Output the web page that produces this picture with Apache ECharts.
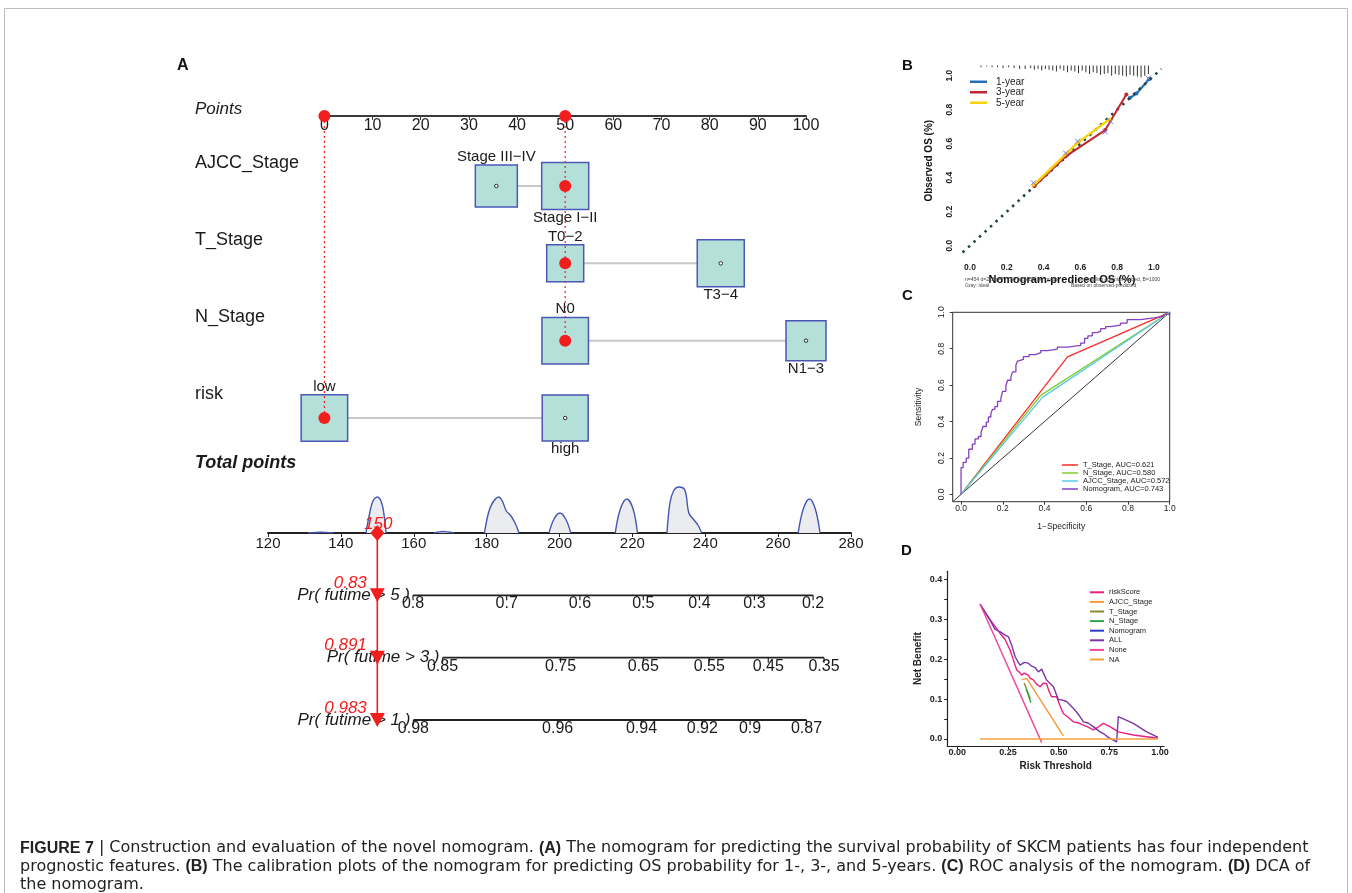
<!DOCTYPE html>
<html>
<head>
<meta charset="utf-8">
<script src="https://cdn.jsdelivr.net/npm/echarts@6/dist/echarts.min.js"></script>
<style>
  html, body { margin: 0; background: #fff; }
  #chart { width: 1352px; height: 893px; }
</style>
</head>
<body>
<div id="chart"></div>
<script>
const FONT = "'Liberation Sans', Arial, Helvetica, sans-serif";

// ---- A: nomogram ----
const varNames = ['AJCC_Stage', 'T_Stage', 'N_Stage', 'risk'];
const levelVar = ['AJCC_Stage', 'AJCC_Stage', 'T_Stage', 'T_Stage', 'N_Stage', 'N_Stage', 'risk', 'risk'];
const levelName = ['Stage III−IV', 'Stage I−II', 'T0−2', 'T3−4', 'N0', 'N1−3', 'low', 'high'];
const levelPoints = [35.7, 50, 50, 82.3, 50, 100, 0, 50];
const patientPoints = [50, 50, 50, 0]; // per varNames

const totalRows = ['Total points', 'Pr( futime > 5 )', 'Pr( futime > 3 )', 'Pr( futime > 1 )'];
const patientTotal = 150;
const patientProb = ['0.83', '0.891', '0.983'];
const prTickLabel = [
  ['0.8', '0.7', '0.6', '0.5', '0.4', '0.3', '0.2'],
  ['0.85', '0.75', '0.65', '0.55', '0.45', '0.35'],
  ['0.98', '0.96', '0.94', '0.92', '0.9', '0.87']
];
const prTickAt = [
  [159.8, 185.5, 205.6, 223, 238.4, 253.5, 269.6],
  [167.9, 200.3, 223, 241.1, 257.3, 272.6],
  [159.9, 199.5, 222.5, 239.2, 252.3, 267.8]
];
// density of total points, one list per bump: [total points, height]
const densityBumps = [
  [[131, 0], [134.5, 0.8], [138, 0]],
  [[146.9, 0], [147.8, 18], [148.8, 32], [150, 36], [151.2, 30], [152, 14], [152.4, 0]],
  [[165.5, 0], [168, 1.5], [171, 0]],
  [[179.4, 0], [180.5, 20], [181.6, 30], [183.3, 36], [184.3, 32], [185.4, 22], [186.5, 18], [187.8, 10], [188.9, 0]],
  [[197.1, 0], [198.5, 14], [200.1, 20], [201.7, 14], [203.1, 0]],
  [[215.3, 0], [216.7, 24], [218.5, 34], [220.2, 24], [221.4, 0]],
  [[229.5, 0], [230.3, 30], [231.3, 42], [232.7, 46], [234.4, 43], [235.5, 20], [236.9, 13], [238, 8], [239, 0]],
  [[265.5, 0], [266.9, 24], [268.6, 34], [270.2, 24], [271.5, 0]]
];

// ---- B: calibration ----
const cal1 = [[0.87, 0.87], [0.905, 0.895], [0.975, 0.98]];
const cal3 = [[0.35, 0.35], [0.52, 0.525], [0.735, 0.68], [0.85, 0.89]];
const cal5 = [[0.345, 0.355], [0.585, 0.605], [0.76, 0.745]];
const calCorrected = [[0.345, 0.37], [0.52, 0.545], [0.585, 0.615], [0.735, 0.67], [0.765, 0.73], [0.97, 0.985]];
const rugX = [0.06, 0.09, 0.12, 0.15, 0.18, 0.21, 0.24, 0.27, 0.3, 0.33, 0.35, 0.37, 0.39, 0.41, 0.43, 0.45, 0.47, 0.49, 0.51, 0.53, 0.55,
  0.57, 0.59, 0.61, 0.63, 0.65, 0.67, 0.69, 0.71, 0.73, 0.75, 0.77, 0.79, 0.81, 0.83, 0.85, 0.87, 0.89, 0.91, 0.93, 0.95, 0.97];
const rugH = [0.01, 0.005, 0.01, 0.01, 0.015, 0.01, 0.015, 0.02, 0.02, 0.015, 0.025, 0.02, 0.03, 0.02, 0.025, 0.03, 0.035, 0.02, 0.03, 0.04, 0.03,
  0.035, 0.045, 0.03, 0.04, 0.05, 0.04, 0.045, 0.055, 0.05, 0.045, 0.06, 0.05, 0.055, 0.06, 0.065, 0.055, 0.06, 0.065, 0.07, 0.06, 0.05];

// ---- C: ROC ----
const rocT = [[0, 0], [0.51, 0.755], [1, 1]];
const rocN = [[0, 0], [0.382, 0.544], [1, 1]];
const rocA = [[0, 0], [0.39, 0.533], [1, 1]];
const rocNomo = [[0, 0], [0.010, 0.147], [0.025, 0.176], [0.037, 0.199], [0.054, 0.248], [0.067, 0.276], [0.083, 0.305], [0.096, 0.318],
  [0.105, 0.340], [0.121, 0.373], [0.131, 0.397], [0.143, 0.425], [0.151, 0.445], [0.162, 0.467], [0.175, 0.482], [0.191, 0.511],
  [0.199, 0.529], [0.215, 0.566], [0.223, 0.597], [0.239, 0.627], [0.247, 0.645], [0.263, 0.673], [0.271, 0.710], [0.280, 0.732],
  [0.299, 0.741], [0.326, 0.757], [0.357, 0.768], [0.382, 0.778], [0.414, 0.790], [0.462, 0.798], [0.510, 0.809], [0.573, 0.818],
  [0.592, 0.831], [0.608, 0.857], [0.629, 0.871], [0.653, 0.888], [0.669, 0.897], [0.693, 0.910], [0.717, 0.921], [0.764, 0.930],
  [0.796, 0.941], [0.860, 0.960], [0.924, 0.969], [0.971, 0.978], [1, 0.989], [1, 1]];
const rocNames = ['T_Stage, AUC=0.621', 'N_Stage, AUC=0.580', 'AJCC_Stage, AUC=0.572', 'Nomogram, AUC=0.743'];

// ---- D: DCA ----
const dcaNames = ['riskScore', 'AJCC_Stage', 'T_Stage', 'N_Stage', 'Nomogram', 'ALL', 'None', 'NA'];
const dcaRisk = [[0.112, 0.338], [0.16, 0.3], [0.21, 0.265], [0.235, 0.25], [0.26, 0.223], [0.275, 0.2], [0.293, 0.173], [0.305, 0.168],
  [0.317, 0.16], [0.33, 0.165], [0.35, 0.16], [0.36, 0.152], [0.375, 0.148], [0.39, 0.138], [0.408, 0.131], [0.425, 0.14], [0.44, 0.139],
  [0.452, 0.12], [0.465, 0.106], [0.49, 0.106], [0.505, 0.085], [0.523, 0.064], [0.545, 0.055], [0.572, 0.043], [0.6, 0.04], [0.622, 0.035],
  [0.645, 0.03], [0.671, 0.023], [0.695, 0.03], [0.72, 0.039], [0.753, 0.031], [0.794, 0.018], [0.868, 0.01], [0.99, 0.002]];
const dcaAjcc = [[0.317, 0.148], [0.342, 0.152], [0.523, 0.008]];
const dcaT = [[0.33, 0.14], [0.36, 0.1]];
const dcaN = [[0.34, 0.125], [0.363, 0.091]];
const dcaNomo = [];
const dcaAll = [[0.112, 0.338], [0.161, 0.298], [0.185, 0.275], [0.21, 0.269], [0.23, 0.262], [0.252, 0.256], [0.27, 0.232], [0.285, 0.206],
  [0.309, 0.185], [0.33, 0.192], [0.35, 0.19], [0.365, 0.183], [0.383, 0.179], [0.4, 0.168], [0.416, 0.175], [0.44, 0.148], [0.474, 0.131],
  [0.498, 0.099], [0.515, 0.098], [0.539, 0.094], [0.572, 0.077], [0.6, 0.06], [0.622, 0.043], [0.645, 0.04], [0.671, 0.031], [0.704, 0.018],
  [0.725, 0.012], [0.745, 0.004], [0.786, -0.007], [0.794, 0.056], [0.868, 0.039], [0.934, 0.018], [0.99, 0.004]];
const dcaNone = [[0.112, 0.338], [0.416, -0.009]];
const dcaNA = [[0.112, 0], [0.99, 0]];

// ---- styles / layout ----
const POINTS_ROW = -0.906; // the Points axis sits above the first variable row
const BOX_SIDE = [42, 47, 37, 47, 46.5, 40, 46.5, 46];
const BOX_LABEL_POS = ['top', 'bottom', 'top', 'bottom', 'top', 'bottom', 'top', 'bottom'];
const RED = '#f21d1d';
const dcaColors = ['#e8207f', '#f59a3a', '#8b8a2a', '#2aa84a', '#2a3fc8', '#7b35a8', '#f0449a', '#f7a040'];
const rocColors = ['#ff2a2a', '#82cc2c', '#5cc8e8', '#8440c0'];

const chart = echarts.init(document.getElementById('chart'));
const rowOf = (v) => varNames.indexOf(v);
const series = [];

// A1: connectors between levels of each variable
varNames.forEach((v) => {
  const pts = levelVar.map((lv, i) => (lv === v ? [levelPoints[i], rowOf(v)] : null)).filter(Boolean);
  series.push({ type: 'line', xAxisIndex: 0, yAxisIndex: 0, data: pts, symbol: 'none', z: 2,
    lineStyle: { color: '#c8c8c8', width: 2 }, silent: true });
});
// A1: boxes
series.push({
  type: 'scatter', xAxisIndex: 0, yAxisIndex: 0, symbol: 'rect', z: 3,
  data: levelName.map((n, i) => ({
    name: n, value: [levelPoints[i], rowOf(levelVar[i])], symbolSize: [BOX_SIDE[i], BOX_SIDE[i]],
    label: { position: BOX_LABEL_POS[i] }
  })),
  itemStyle: { color: '#b5e0da', borderColor: '#4957b6', borderWidth: 1.5, opacity: 1 },
  label: { show: true, formatter: (p) => p.name, fontSize: 15, color: '#1a1a1a', distance: 0 }
});
series.push({
  type: 'scatter', xAxisIndex: 0, yAxisIndex: 0, symbol: 'circle', symbolSize: 3.5, z: 4,
  data: levelName.map((n, i) => [levelPoints[i], rowOf(levelVar[i])]),
  itemStyle: { color: '#fff', borderColor: '#000', borderWidth: 0.8, opacity: 1 }
});
// A1: patient dotted guides + red dots
const uniq = [...new Set(patientPoints)];
uniq.forEach((u) => {
  let last = 0;
  varNames.forEach((v, i) => { if (patientPoints[i] === u) last = i; });
  series.push({ type: 'line', xAxisIndex: 0, yAxisIndex: 0, data: [[u, POINTS_ROW], [u, last]], symbol: 'none', z: 5,
    lineStyle: { color: RED, width: 1.2, type: [2, 3] } });
});
series.push({
  type: 'scatter', xAxisIndex: 0, yAxisIndex: 0, symbolSize: 12, z: 6,
  data: uniq.map((u) => [u, POINTS_ROW]).concat(varNames.map((v, i) => [patientPoints[i], i])),
  itemStyle: { color: RED, opacity: 1 }
});

// A3: density bumps
densityBumps.forEach((b) => {
  series.push({ type: 'line', xAxisIndex: 1, yAxisIndex: 1, data: b, smooth: 0.35, symbol: 'none',
    lineStyle: { color: '#4356b3', width: 1.4 }, areaStyle: { color: '#ebecef', opacity: 1 } });
});

// A2: probability axes
prTickAt.forEach((ticks, r) => {
  const row = totalRows[r + 1];
  series.push({ type: 'line', xAxisIndex: 2, yAxisIndex: 2, data: ticks.map((t) => [t, row]), symbol: 'none',
    lineStyle: { color: '#222', width: 1.8 }, z: 2 });
  series.push({
    type: 'scatter', xAxisIndex: 2, yAxisIndex: 2, symbol: 'rect', symbolSize: [1.2, 5], symbolOffset: [0, 2.5], z: 2,
    data: ticks.map((t, k) => ({ value: [t, row], name: prTickLabel[r][k] })),
    itemStyle: { color: '#222', opacity: 1 },
    label: { show: true, position: 'inside', offset: [0, 6], formatter: (p) => p.name, fontSize: 16, color: '#1a1a1a' }
  });
  series.push({
    type: 'scatter', xAxisIndex: 2, yAxisIndex: 2, symbolSize: 0, z: 2,
    data: [{ value: [ticks[0], row], name: row }],
    itemStyle: { opacity: 1 },
    label: { show: true, position: 'left', distance: 3, formatter: (p) => p.name, fontSize: 17, fontStyle: 'italic', color: '#1a1a1a' }
  });
});
// A2: patient red path
series.push({ type: 'line', xAxisIndex: 2, yAxisIndex: 2, data: [[patientTotal, totalRows[0]], [patientTotal, totalRows[3]]],
  symbol: 'none', z: 5, lineStyle: { color: RED, width: 1.6 } });
series.push({
  type: 'scatter', xAxisIndex: 2, yAxisIndex: 2, symbol: 'diamond', symbolSize: [14, 16], z: 6,
  data: [{ value: [patientTotal, totalRows[0]], name: String(patientTotal) }],
  itemStyle: { color: RED, opacity: 1 },
  label: { show: true, position: 'inside', offset: [1, -9], formatter: (p) => p.name, fontSize: 17, fontStyle: 'italic', color: RED }
});
series.push({
  type: 'scatter', xAxisIndex: 2, yAxisIndex: 2, symbol: 'triangle', symbolRotate: 180, symbolSize: [15, 14], z: 6,
  data: patientProb.map((p, i) => ({ value: [patientTotal, totalRows[i + 1]], name: p })),
  itemStyle: { color: RED, opacity: 1 },
  label: { show: true, position: 'left', distance: 3, offset: [0, -12], formatter: (p) => p.name, fontSize: 17, fontStyle: 'italic', color: RED }
});

// B: calibration
series.push({
  type: 'custom', xAxisIndex: 3, yAxisIndex: 3, data: rugX.map((x, i) => [x, rugH[i]]),
  renderItem: (params, api) => {
    const a = api.coord([api.value(0), 1.06]);
    const b = api.coord([api.value(0), 1.06 - api.value(1)]);
    return { type: 'line', shape: { x1: a[0], y1: a[1], x2: b[0], y2: b[1] }, style: { stroke: '#333', lineWidth: 1 } };
  }
});
series.push({ name: '1-year', type: 'line', xAxisIndex: 3, yAxisIndex: 3, data: cal1, symbol: 'circle', symbolSize: 4, z: 2,
  lineStyle: { color: '#2470b8', width: 2.2 }, itemStyle: { color: '#2470b8' } });
series.push({ type: 'line', xAxisIndex: 3, yAxisIndex: 3, data: [[-0.04, -0.04], [1.04, 1.04]], symbol: 'none', z: 3,
  lineStyle: { color: '#1f4545', width: 2.6, type: [2.5, 5] } });
series.push({ name: '3-year', type: 'line', xAxisIndex: 3, yAxisIndex: 3, data: cal3, symbol: 'circle', symbolSize: 4, z: 4,
  lineStyle: { color: '#c1272d', width: 2 }, itemStyle: { color: '#c1272d' } });
series.push({ name: '5-year', type: 'line', xAxisIndex: 3, yAxisIndex: 3, data: cal5, symbol: 'circle', symbolSize: 3, z: 5,
  lineStyle: { color: '#f6d20a', width: 2.4 }, itemStyle: { color: '#f6d20a' } });
series.push({ type: 'scatter', xAxisIndex: 3, yAxisIndex: 3, data: calCorrected, z: 6,
  symbol: 'path://M0,0L10,10M10,0L0,10', symbolSize: 5, itemStyle: { color: 'none', borderColor: '#7a78d0', borderWidth: 1, opacity: 1 } });

// C: ROC
series.push({ type: 'line', xAxisIndex: 4, yAxisIndex: 4, data: [[-0.04, -0.04], [1, 1]], symbol: 'none',
  lineStyle: { color: '#333', width: 1 } });
[rocT, rocN, rocA].forEach((d, i) => {
  series.push({ name: rocNames[i], type: 'line', xAxisIndex: 4, yAxisIndex: 4, data: d, symbol: 'none',
    lineStyle: { color: rocColors[i], width: 1.3 }, itemStyle: { color: rocColors[i] } });
});
series.push({ name: rocNames[3], type: 'line', step: 'start', xAxisIndex: 4, yAxisIndex: 4, data: rocNomo, symbol: 'none',
  lineStyle: { color: rocColors[3], width: 1.3 }, itemStyle: { color: rocColors[3] } });

// D: DCA
[dcaRisk, dcaAjcc, dcaT, dcaN, dcaNomo, dcaAll, dcaNone, dcaNA].forEach((d, i) => {
  series.push({ name: dcaNames[i], type: 'line', xAxisIndex: 5, yAxisIndex: 5, data: d, symbol: 'none',
    lineStyle: { color: dcaColors[i], width: 1.4 }, itemStyle: { color: dcaColors[i] } });
});

const hidden = { axisLine: { show: false }, axisTick: { show: false }, axisLabel: { show: false }, splitLine: { show: false } };
const b2 = (v) => v.toFixed(1);
const ticks02 = [0, 0.2, 0.4, 0.6, 0.8, 1];

const option = {
  animation: false,
  textStyle: { fontFamily: FONT },
  graphic: [{ type: 'rect', shape: { x: 4.5, y: 8.5, width: 1343, height: 900 }, style: { fill: 'none', stroke: '#bdbdbd', lineWidth: 1 } }],
  title: [
    { text: 'A', left: 177, top: 58, padding: 0, textStyle: { fontSize: 16, fontWeight: 'bold', color: '#111' } },
    { text: 'B', left: 902, top: 58, padding: 0, textStyle: { fontSize: 15, fontWeight: 'bold', color: '#111' } },
    { text: 'C', left: 902, top: 288, padding: 0, textStyle: { fontSize: 15, fontWeight: 'bold', color: '#111' } },
    { text: 'D', left: 901, top: 543, padding: 0, textStyle: { fontSize: 15, fontWeight: 'bold', color: '#111' } },
    { text: 'n=454 d=218 p=7, 130 subjects per group\nGray: ideal', left: 965, top: 277, padding: 0,
      textStyle: { fontSize: 5, fontWeight: 'normal', color: '#444', lineHeight: 5.5 } },
    { text: 'X - resampling optimism added, B=1000\nBased on observed-predicted', right: 192, top: 277, padding: 0,
      textStyle: { fontSize: 5, fontWeight: 'normal', color: '#444', lineHeight: 5.5, align: 'right' } },
    {
      left: 20, top: 839, padding: 0,
      text: '{b|FIGURE 7} | Construction and evaluation of the novel nomogram. {b|(A)} The nomogram for predicting the survival probability of SKCM patients has four independent\n' +
        'prognostic features. {b|(B)} The calibration plots of the nomogram for predicting OS probability for 1-, 3-, and 5-years. {b|(C)} ROC analysis of the nomogram. {b|(D)} DCA of\n' +
        'the nomogram.',
      textStyle: { fontFamily: "'DejaVu Sans', sans-serif", fontSize: 16, fontWeight: 'normal', color: '#222', lineHeight: 18.5,
        rich: { b: { fontFamily: FONT, fontSize: 16, fontWeight: 'bold', color: '#222', lineHeight: 18.5 } } }
    }
  ],
  legend: [
    { data: ['1-year', '3-year', '5-year'], orient: 'vertical', left: 970, top: 76.5, padding: 0, icon: 'rect', itemWidth: 17, itemHeight: 2.5,
      itemGap: 0, textStyle: { fontSize: 10, lineHeight: 10.5, color: '#222', padding: [0, 0, 0, 4] } },
    { data: rocNames, orient: 'vertical', left: 1062, top: 461, padding: 0, icon: 'rect', itemWidth: 16, itemHeight: 1.5,
      itemGap: 0, textStyle: { fontSize: 7.5, lineHeight: 7.7, color: '#222' } },
    { data: dcaNames, orient: 'vertical', left: 1090, top: 587.5, padding: 0, icon: 'rect', itemWidth: 14, itemHeight: 2,
      itemGap: 0, textStyle: { fontSize: 7.5, lineHeight: 9.6, color: '#222' } }
  ],
  grid: [
    { left: 324.4, top: 116, width: 481.6, height: 302 },
    { left: 268, top: 483, width: 583, height: 50 },
    { left: 268, top: 533, width: 583, height: 187 },
    { left: 962.6, top: 68.9, width: 198.7, height: 183.6 },
    { left: 952.7, top: 312.3, width: 217, height: 189.4, show: true, borderColor: '#333', borderWidth: 1, backgroundColor: 'transparent' },
    { left: 947.2, top: 571.3, width: 216.9, height: 174.7 }
  ],
  xAxis: [
    { gridIndex: 0, type: 'value', min: 0, max: 100, interval: 10, position: 'top',
      axisLine: { show: true, onZero: false, lineStyle: { color: '#3a3a3a', width: 2 } },
      axisTick: { show: true, inside: true, length: 4, lineStyle: { color: '#3a3a3a' } },
      axisLabel: { inside: true, margin: 2, fontSize: 16, color: '#1a1a1a' }, splitLine: { show: false } },
    { gridIndex: 1, type: 'value', min: 120, max: 280, ...hidden },
    { gridIndex: 2, type: 'value', min: 120, max: 280, interval: 20, position: 'top',
      axisLine: { show: true, onZero: false, lineStyle: { color: '#222', width: 2 } },
      axisTick: { show: true, inside: true, length: 4, lineStyle: { color: '#222' } },
      axisLabel: { inside: true, margin: 3, fontSize: 15, color: '#1a1a1a' }, splitLine: { show: false } },
    { gridIndex: 3, type: 'value', min: -0.04, max: 1.04, axisLine: { show: false, onZero: false }, axisTick: { show: false }, splitLine: { show: false },
      axisLabel: { customValues: ticks02, formatter: b2, fontSize: 8.5, fontWeight: 'bold', color: '#222', margin: 11 },
      name: 'Nomogram-prediced OS (%)', nameLocation: 'middle', nameGap: 22,
      nameTextStyle: { fontSize: 11, fontWeight: 'bold', color: '#111' } },
    { gridIndex: 4, type: 'value', min: -0.04, max: 1, splitLine: { show: false },
      axisLine: { show: false, onZero: false },
      axisTick: { show: true, customValues: ticks02, length: 3, lineStyle: { color: '#333' } },
      axisLabel: { customValues: ticks02, formatter: b2, fontSize: 8.5, color: '#222', margin: 2 },
      name: '1−Specificity', nameLocation: 'middle', nameGap: 20, nameTextStyle: { fontSize: 8.5, color: '#222' } },
    { gridIndex: 5, type: 'value', min: -0.05, max: 1.02, splitLine: { show: false },
      axisLine: { show: true, onZero: false, lineStyle: { color: '#222', width: 1.2 } },
      axisTick: { show: true, customValues: [0, 0.25, 0.5, 0.75, 1], length: 3, lineStyle: { color: '#222' } },
      axisLabel: { customValues: [0, 0.25, 0.5, 0.75, 1], formatter: (v) => v.toFixed(2), fontSize: 9, fontWeight: 'bold', color: '#222', margin: 2 },
      name: 'Risk Threshold', nameLocation: 'middle', nameGap: 15, nameTextStyle: { fontSize: 10, fontWeight: 'bold', color: '#222' } }
  ],
  yAxis: [
    { gridIndex: 0, type: 'value', min: POINTS_ROW, max: 3, inverse: true,
      axisLine: { show: false, onZero: false }, axisTick: { show: false }, splitLine: { show: false },
      axisLabel: { customValues: [POINTS_ROW, 0, 1, 2, 3], align: 'left', margin: 129.4, verticalAlign: 'middle',
        formatter: (v) => (v < 0 ? '{p|Points}' : '{v|' + varNames[Math.round(v)] + '}'),
        rich: { p: { fontStyle: 'italic', fontSize: 17, color: '#1a1a1a', padding: [0, 0, 13, 0] },
          v: { fontSize: 18, color: '#1a1a1a', padding: [0, 0, 47, 0] } } } },
    { gridIndex: 1, type: 'value', min: 0, max: 50, ...hidden },
    { gridIndex: 2, type: 'category', data: totalRows, inverse: true, boundaryGap: false,
      axisLine: { show: false }, axisTick: { show: false }, splitLine: { show: false },
      axisLabel: { align: 'left', margin: 73, verticalAlign: 'bottom',
        formatter: (v) => (v === 'Total points' ? '{t|Total points}' : ''),
        rich: { t: { fontStyle: 'italic', fontWeight: 'bold', fontSize: 18, color: '#1a1a1a', padding: [0, 0, 61, 0] } } } },
    { gridIndex: 3, type: 'value', min: -0.04, max: 1.04, axisLine: { show: false, onZero: false }, axisTick: { show: false }, splitLine: { show: false },
      axisLabel: { customValues: ticks02, formatter: b2, rotate: 90, fontSize: 8.5, fontWeight: 'bold', color: '#222', margin: 8 },
      name: 'Observed OS (%)', nameLocation: 'middle', nameGap: 28, nameRotate: 90,
      nameTextStyle: { fontSize: 10, fontWeight: 'bold', color: '#111' } },
    { gridIndex: 4, type: 'value', min: -0.04, max: 1, splitLine: { show: false },
      axisLine: { show: false, onZero: false },
      axisTick: { show: true, customValues: ticks02, length: 3, lineStyle: { color: '#333' } },
      axisLabel: { customValues: ticks02, formatter: b2, rotate: 90, fontSize: 8.5, color: '#222', margin: 7 },
      name: 'Sensitivity', nameLocation: 'middle', nameGap: 30, nameRotate: 90, nameTextStyle: { fontSize: 8.5, color: '#222' } },
    { gridIndex: 5, type: 'value', min: -0.0175, max: 0.42, splitLine: { show: false },
      axisLine: { show: true, onZero: false, lineStyle: { color: '#222', width: 1.2 } },
      axisTick: { show: true, customValues: [0, 0.05, 0.1, 0.15, 0.2, 0.25, 0.3, 0.35, 0.4], length: 3, lineStyle: { color: '#222' } },
      axisLabel: { customValues: [0, 0.1, 0.2, 0.3, 0.4], formatter: b2, fontSize: 9, fontWeight: 'bold', color: '#222', margin: 5 },
      name: 'Net Benefit', nameLocation: 'middle', nameGap: 24, nameRotate: 90, nameTextStyle: { fontSize: 10, fontWeight: 'bold', color: '#222' } }
  ],
  series
};

chart.setOption(option);
</script>
</body>
</html>
